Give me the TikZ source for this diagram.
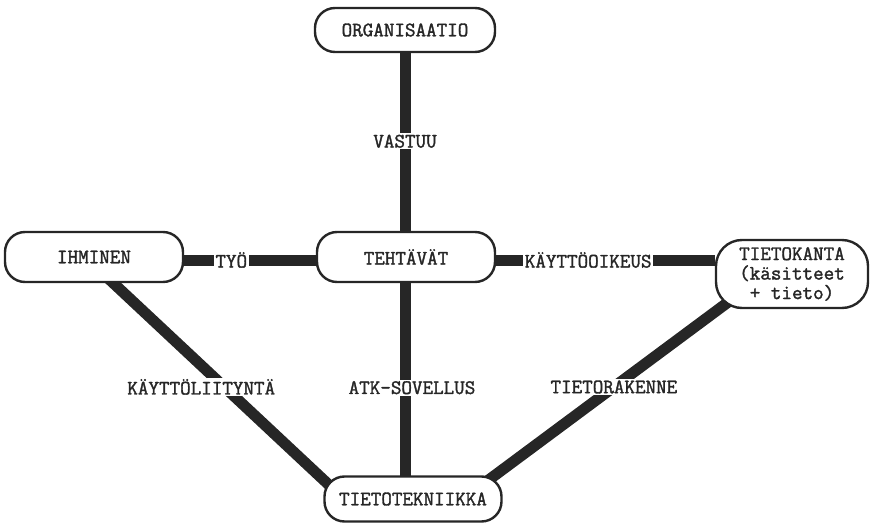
\documentclass[tikz,border=0pt]{standalone}
\usepackage{fontspec}
\newfontfamily\tw[FakeBold=1.6]{Latin Modern Mono}
\usetikzlibrary{calc,backgrounds}
\definecolor{ink}{HTML}{262626}
\tikzset{
  lbl/.style={font=\tw\fontsize{20.5}{19.5}\selectfont},
  box/.style={draw=ink, line width=2.4pt, rounded corners=20pt, fill=white,
    minimum height=46pt, inner sep=2pt, text=ink, lbl},
  link/.style={draw=ink, line width=11pt},
  lab/.style={fill=white, text=ink, inner sep=1.5pt, lbl}
}
\begin{document}
\begin{tikzpicture}[x=1pt,y=-1pt]
\useasboundingbox (0,0) rectangle (870,524);
\node[box, minimum width=180pt, minimum height=44pt] (org) at (405,30) {ORGANISAATIO};
\node[box, minimum width=178pt, minimum height=50pt] (ihm) at (94,257) {IHMINEN};
\node[box, minimum width=178pt, minimum height=50pt] (teh) at (406,257) {TEHTÄVÄT};
\node[box, minimum width=152pt, minimum height=68pt, rounded corners=26pt, align=center] (tk) at (792,274) {TIETOKANTA\\(käsitteet\\+ tieto)};
\node[box, minimum width=177pt, minimum height=45pt] (tt) at (413,499) {TIETOTEKNIIKKA};
\begin{scope}[on background layer]
\draw[link] (org.center) -- node[lab, pos=0.49] {VASTUU} (org.center |- teh.center);
\draw[link] ([yshift=-3pt]ihm.center) -- node[lab, pos=0.44] {TYÖ} ([yshift=-3pt]teh.center);
\draw[link] ([yshift=-3pt]teh.center) -- node[lab, pos=0.59] {KÄYTTÖOIKEUS} ([yshift=-3pt]tk.west |- teh.center);
\draw[link] ([xshift=-1pt]teh.center) -- node[lab, pos=0.54, xshift=7pt] {ATK-SOVELLUS} ([xshift=-1pt]teh.center |- tt.center);
\draw[link] ([xshift=-8.6pt]ihm.center) -- node[lab, pos=0.537, xshift=-23pt] {KÄYTTÖLIITYNTÄ} ([xshift=-69pt]tt.center);
\draw[link] ([xshift=-26pt]tk.center) -- node[lab, pos=0.502] {TIETORAKENNE} ([xshift=50pt]tt.center);
\end{scope}
\end{tikzpicture}
\end{document}
